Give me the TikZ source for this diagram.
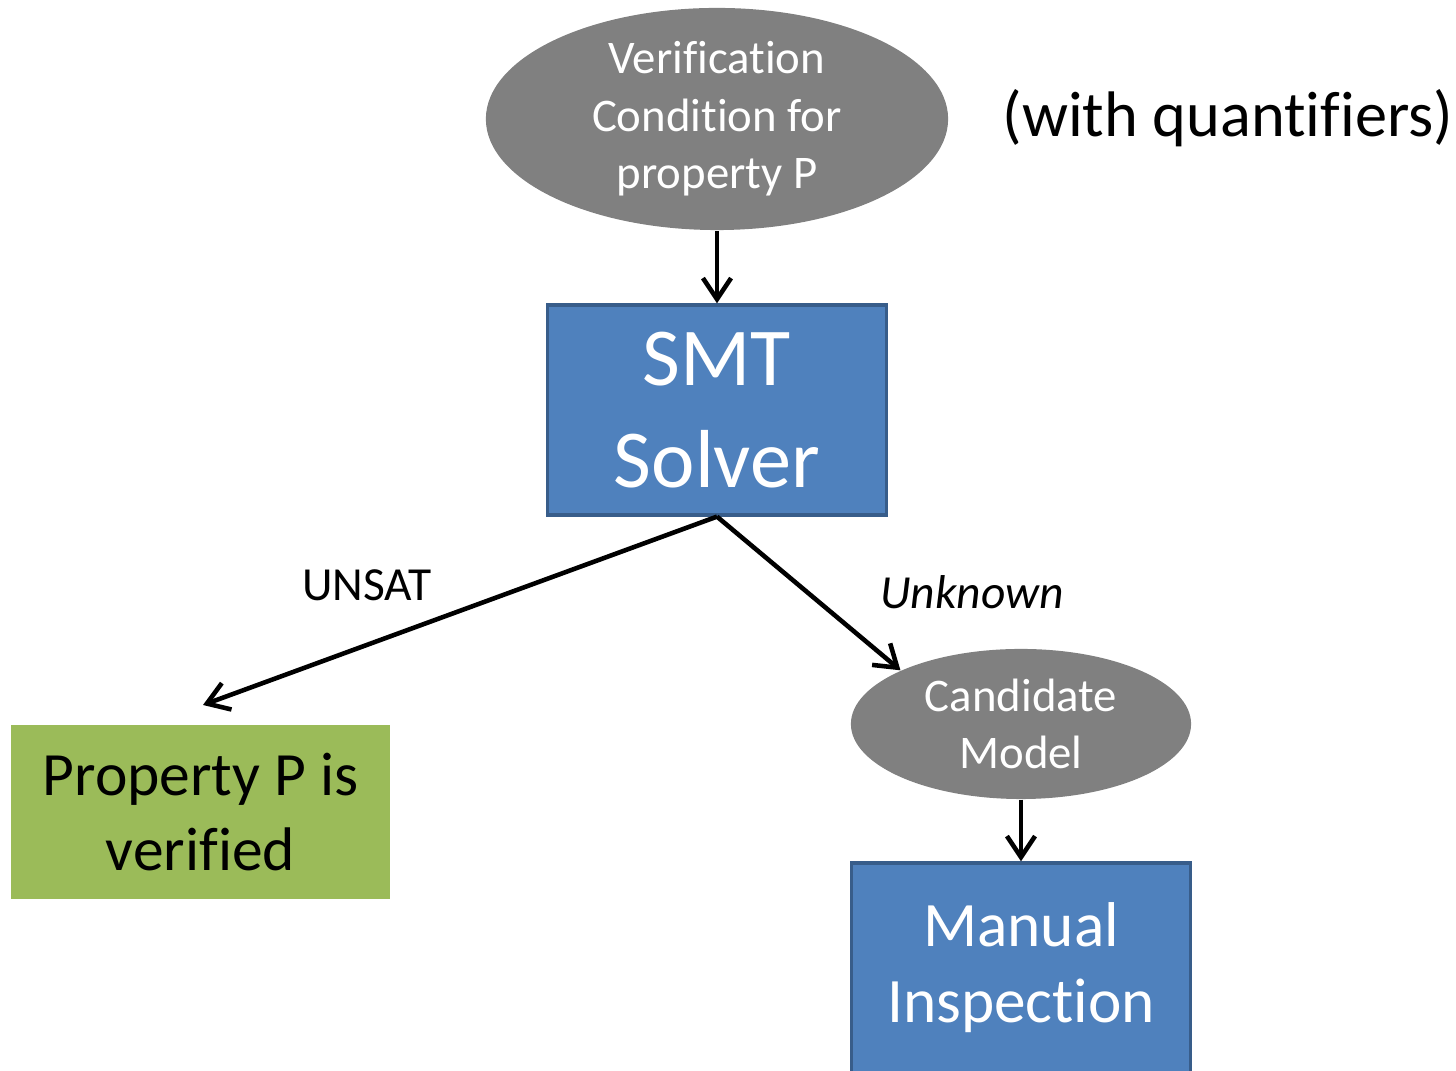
\documentclass[tikz,border=0pt]{standalone}
\usepackage{fontspec}
\setmainfont[Ligatures=NoCommon]{Carlito}
\usetikzlibrary{arrows.meta,shapes.geometric}
\definecolor{SolverClr}{RGB}{79,129,189}
\definecolor{SolverEdge}{RGB}{56,93,138}
\definecolor{CondClr}{RGB}{128,128,128}
\definecolor{DoneClr}{RGB}{155,187,89}

\begin{document}
\begin{tikzpicture}[x=0.01cm,y=-0.01cm,
  cond/.style={ellipse,fill=CondClr,text=white,inner sep=0pt,align=center},
  solverbox/.style={rectangle,fill=SolverClr,draw=SolverEdge,line width=0.9pt,text=white,
    inner sep=0pt,align=center,minimum width=3.38cm,minimum height=2.1cm},
  flow/.style={line width=1.3pt,-{Straight Barb[length=6pt,width=8pt]}}]
\useasboundingbox (0,0) rectangle (1456,1071);

% nodes
\node[cond,minimum width=4.62cm,minimum height=2.22cm,font=\fontsize{13.3}{16.4}\selectfont]
  (vc) at (717,119) {Verification\\Condition for\\property P};
\node[font=\fontsize{18.3}{22}\selectfont] (quant) at (1228,118) {(with quantifiers)};

\node[solverbox,font=\fontsize{23.4}{29}\selectfont] (smt) at (717,410) {SMT\\Solver};

\node[rectangle,fill=DoneClr,inner sep=0pt,align=center,minimum width=3.79cm,minimum height=1.74cm,
  font=\fontsize{17.5}{21.3}\selectfont] (prop) at (200.5,812) {Property P is\\verified};

\node[cond,minimum width=3.4cm,minimum height=1.5cm,font=\fontsize{13.3}{16.4}\selectfont]
  (cand) at (1021,724) {Candidate\\Model};

\node[solverbox,font=\fontsize{18}{21.6}\selectfont] (manual) at (1021,968) {Manual\\Inspection};

% labels
\node[font=\fontsize{13.5}{16}\selectfont] (unsat) at (367,585) {UNSAT};
\node[font=\fontsize{13.5}{16}\selectfont\itshape] (unknown) at (972,592) {Unknown};

% connectors
\coordinate (unsatend) at (203,705);
\draw[flow] (vc.south) -- (smt.north);
\draw[flow] (smt.south) -- (unsatend);
\draw[flow] (smt.south) -- (cand.156);
\draw[flow] (cand.south) -- (manual.north);

\end{tikzpicture}
\end{document}
